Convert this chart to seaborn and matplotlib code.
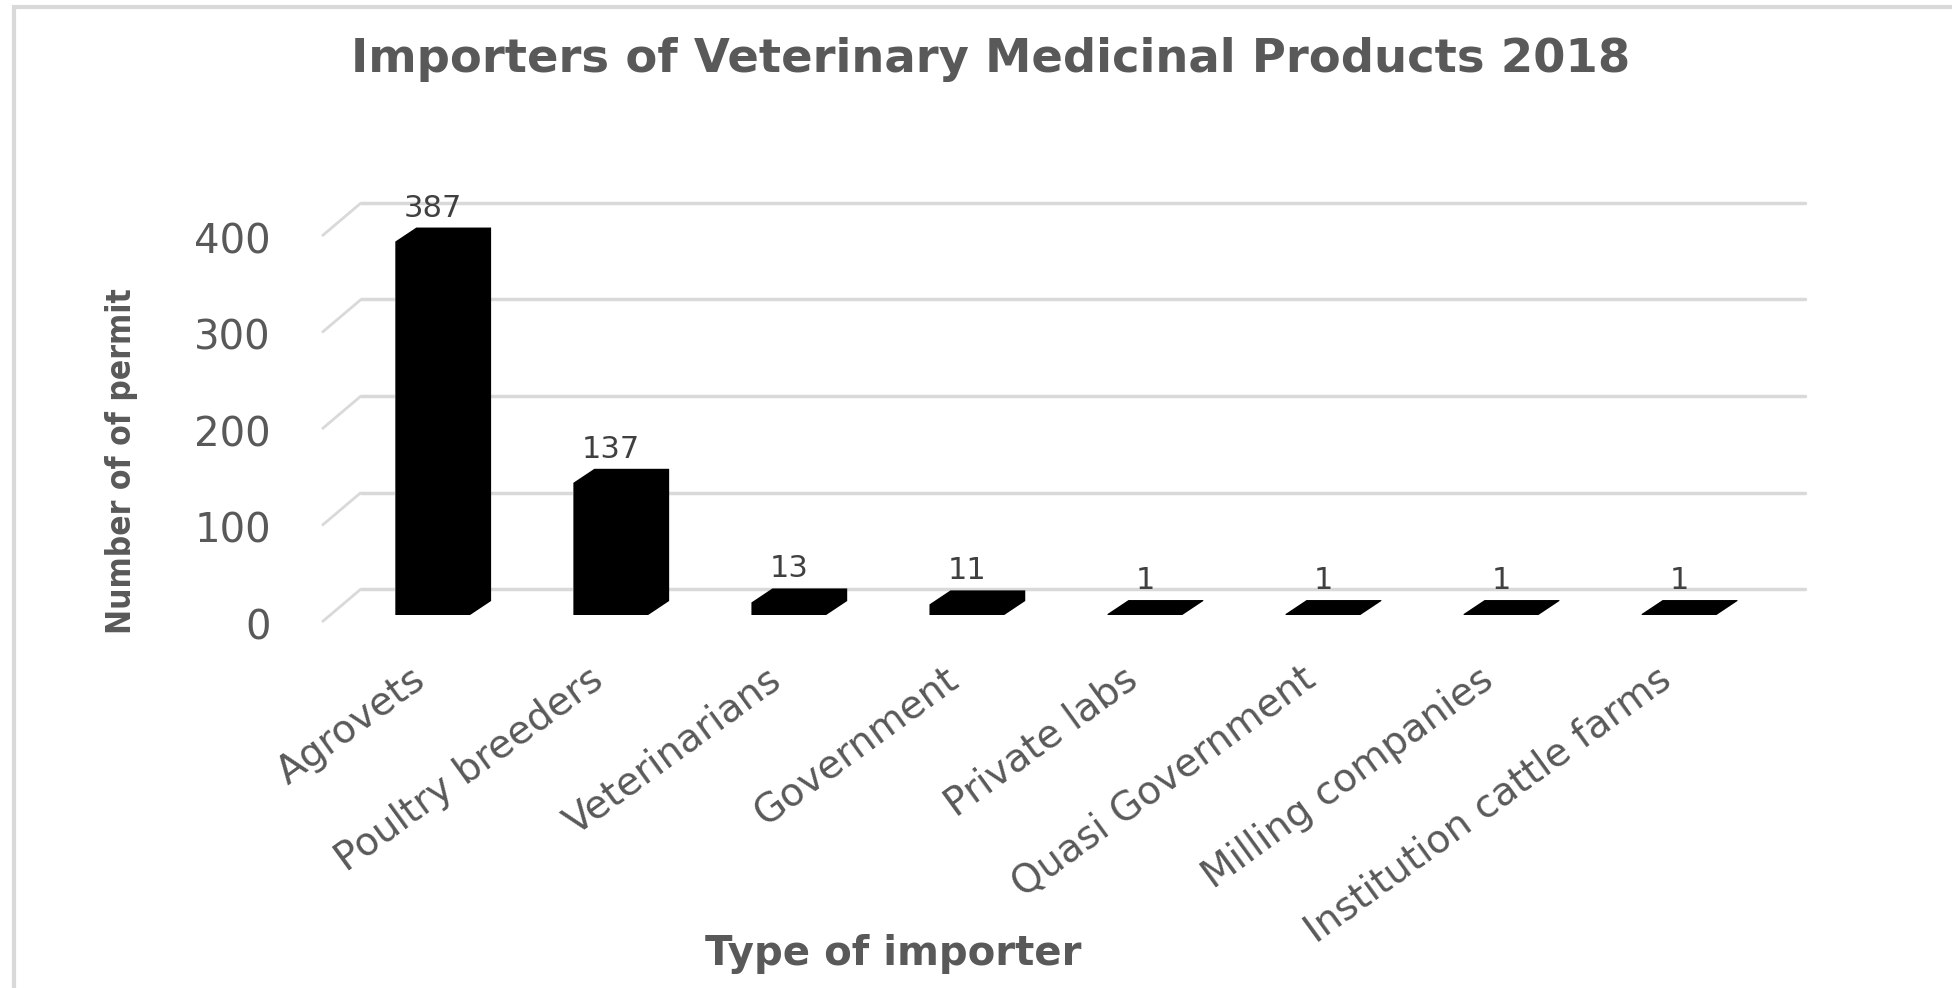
import numpy as np
import pandas as pd
import matplotlib
matplotlib.use("Agg")
import matplotlib.pyplot as plt
import seaborn as sns
from matplotlib.patches import Polygon, Rectangle

categories = ["Agrovets", "Poultry breeders", "Veterinarians", "Government",
              "Private labs", "Quasi Government", "Milling companies",
              "Institution cattle farms"]
permits = [387, 137, 13, 11, 1, 1, 1, 1]
y_ticks = [0, 100, 200, 300, 400]

TEXT = "#595959"
GRID = "#d9d9d9"

sns.set_theme(style="white")
plt.rcParams['font.family'] = ['DejaVu Sans']

W, H = 1952, 988
fig = plt.figure(figsize=(W / 100, H / 100), dpi=100)
fig.patch.set_facecolor("white")

# bar front plane in pixels
left_px, right_px = 333, 1777
zero_px, top_px = 615, 229
ax = fig.add_axes([left_px / W, (H - zero_px) / H,
                   (right_px - left_px) / W, (zero_px - top_px) / H])

df = pd.DataFrame({"type": categories, "permits": permits})
sns.barplot(data=df, x="type", y="permits", color="black", width=0.42,
            saturation=1, ax=ax, zorder=3)
ax.set_xlim(-0.56, 7.55)
ax.set_ylim(0, 400)
ax.axis("off")

# pixel -> data conversion
ppx = (right_px - left_px) / (7.55 + 0.56)
ppy = (zero_px - top_px) / 400.0

def px(dx, dy):
    return dx / ppx, dy / ppy

# grid: front (label) plane and back wall
fx, fy = px(-11, -7)
bx, by = px(28, 26)
x0, x1 = -0.56, 7.55
for v in y_ticks:
    ax.plot([x0 + fx, x0 + bx], [v + fy, v + by], color=GRID, lw=2, zorder=1,
            solid_capstyle="butt", clip_on=False)
    ax.plot([x0 + bx, x1 + bx], [v + by, v + by], color=GRID, lw=2.5, zorder=1,
            clip_on=False)
    ax.text(x0 + fx - px(51, 0)[0], v + fy - px(0, 6)[1], str(v), ha="right",
            va="center", fontsize=29, color=TEXT)

# 3D depth on the bars
dx, dy = px(21, 14)
for p in list(ax.patches):
    xa, ya = p.get_x(), p.get_y()
    xb, yb = xa + p.get_width(), ya + p.get_height()
    hexagon = [(xa, ya), (xb, ya), (xb + dx, ya + dy), (xb + dx, yb + dy),
               (xa + dx, yb + dy), (xa, yb)]
    ax.add_patch(Polygon(hexagon, closed=True, facecolor="black",
                         edgecolor="none", zorder=3, clip_on=False))
    ax.text(xa + p.get_width() / 2, yb + dy + px(0, 5)[1],
            f"{int(p.get_height())}", ha="center", va="bottom", fontsize=22,
            color="#404040", zorder=4)

# rotated category labels
for i, name in enumerate(categories):
    ax.text(i + px(-23, 0)[0], px(0, -45)[1], name, rotation=36, ha="right",
            va="top", rotation_mode="anchor", fontsize=28, color=TEXT)

fig.text(796 * 1952 / 1568 / W, 1 - 60 / H,
         "Importers of Veterinary Medicinal Products 2018",
         ha="center", va="center", fontsize=33.5, fontweight="bold", color=TEXT)
fig.text(121 / W, 1 - 461 / H, "Number of of permit", rotation=90,
         ha="center", va="center", fontsize=24, fontweight="bold", color=TEXT,
         fontstretch="condensed")
fig.text(893 / W, 1 - 954 / H, "Type of importer", ha="center", va="center",
         fontsize=29, fontweight="bold", color=TEXT)

# outer chart frame
fig.add_artist(Rectangle((14 / W, -0.1), 1.2, 1 - 7 / H + 0.1,
                         transform=fig.transFigure, fill=False,
                         edgecolor=GRID, lw=3))

fig.savefig("out.png", dpi=100)
